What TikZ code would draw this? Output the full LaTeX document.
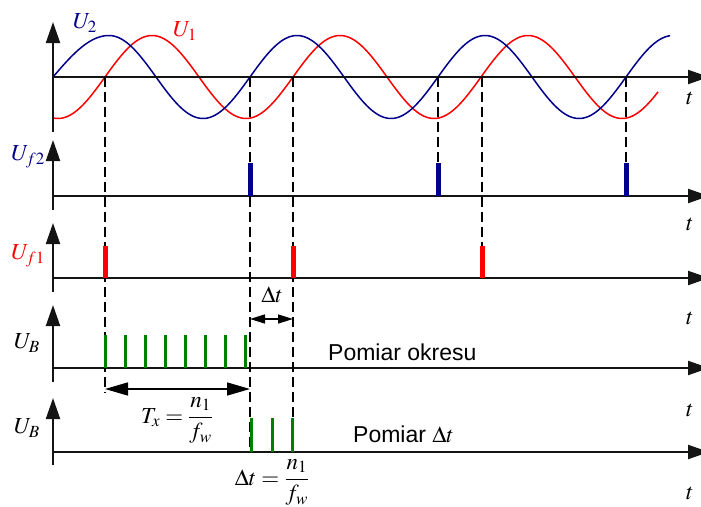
\documentclass[tikz,border=0pt]{standalone}
\usepackage{mathptmx}
\usepackage[no-math]{fontspec}
\setmainfont{Liberation Serif}
\newfontfamily\arialf{Liberation Sans}
\usetikzlibrary{arrows.meta}
\definecolor{navyc}{RGB}{0,0,140}
\definecolor{redc}{RGB}{255,0,0}
\definecolor{greenc}{RGB}{0,128,0}
\definecolor{axisc}{RGB}{20,20,20}
\begin{document}
\begin{tikzpicture}[x=1pt,y=-1pt,
  axisline/.style={draw=axisc,line width=2pt},
  axarrow/.style={axisline,-{Triangle[length=21pt,width=14pt]}},
  guide/.style={draw=black,line width=1.4pt,dash pattern=on 10pt off 5pt},
  bluepulse/.style={draw=navyc,line width=5pt},
  redpulse/.style={draw=redc,line width=5pt},
  greenpulse/.style={draw=greenc,line width=3pt},
  lbl/.style={inner sep=0pt,font=\fontsize{23}{27}\selectfont},
  sans/.style={inner sep=0pt,font=\arialf\fontsize{23}{27}\selectfont},
  wave/.style={line width=1.5pt},
  dimarrow/.style={draw=black,line width=1.5pt,{Triangle[length=23pt,width=13pt]}-{Triangle[length=23pt,width=13pt]}},
  dtarrow/.style={draw=black,line width=1.5pt,{Triangle[length=15pt,width=9pt]}-{Triangle[length=15pt,width=9pt]}}
]
\clip (0,0) rectangle (701,506);
% waves
\draw[redc,wave] plot[domain=53:658,samples=250] (\x,{77-41.5*sin((\x-105)*1.914894)});
\draw[navyc,wave] plot[domain=53:109,samples=30] (\x,{77-41.5*sin((\x-53)*1.607143)})
  -- plot[domain=109:670,samples=220] (\x,{77-41.5*sin((\x-62)*1.914894)});
% axes
\foreach \ya/\yt/\yb in {77/22/132,196/140/210,278/223/292,368/305/382,452/398/465}{
  \draw[axarrow] (53,\yb) -- (53,\yt);
  \draw[axarrow] (53,\ya) -- (709,\ya);
}
% guide lines
\draw[guide] (105,77) -- (105,393);
\draw[guide] (250,77) -- (250,452);
\draw[guide] (293,77) -- (293,452);
\draw[guide] (438,77) -- (438,163);
\draw[guide] (482,77) -- (482,246);
\draw[guide] (626,77) -- (626,163);
% pulses
\foreach \x in {250,438,626} \draw[bluepulse] (\x,196) -- (\x,163);
\foreach \x in {105,293,482} \draw[redpulse] (\x,278) -- (\x,246);
\foreach \i in {0,...,7} \draw[greenpulse] ({105+\i*20.14},368) -- ({105+\i*20.14},335);
\foreach \x in {251,272,292} \draw[greenpulse] (\x,452) -- (\x,418);
% dimension arrows
\coordinate (tx1) at (105,389);
\coordinate (tx2) at (250,389);
\draw[dimarrow] (tx1) -- (tx2);
\coordinate (dt1) at (250,319);
\coordinate (dt2) at (293,319);
\draw[dtarrow] (dt1) -- (dt2);
% labels
\node[lbl,text=navyc] (u2) at (85,23) {$U_2$};
\node[lbl,text=redc] (u1) at (185,31) {$U_1$};
\node[lbl,text=navyc] (uf2) at (28,157) {$U_{f2}$};
\node[lbl,text=redc] (uf1) at (28,256) {$U_{f1}$};
\node[lbl] (ub1) at (27,343) {$U_B$};
\node[lbl] (ub2) at (27,428) {$U_B$};
\node[lbl] (t1) at (690,98) {$t$};
\node[lbl] (t2) at (690,224) {$t$};
\node[lbl] (t3) at (690,318) {$t$};
\node[lbl] (t4) at (690,410) {$t$};
\node[lbl] (t5) at (690,493) {$t$};
\node[lbl] (dtl) at (272,295) {$\Delta t$};
\node[lbl,anchor=base] (txf) at (177,423) {$\displaystyle T_x=\frac{n_1}{f_w}$};
\node[lbl,anchor=base] (dtf) at (272,485) {$\displaystyle \Delta t=\frac{n_1}{f_w}$};
\node[sans,anchor=base west] (po) at (328,360) {Pomiar okresu};
\node[sans,anchor=base west] (pd) at (353,442) {Pomiar $\Delta t$};
\end{tikzpicture}
\end{document}
